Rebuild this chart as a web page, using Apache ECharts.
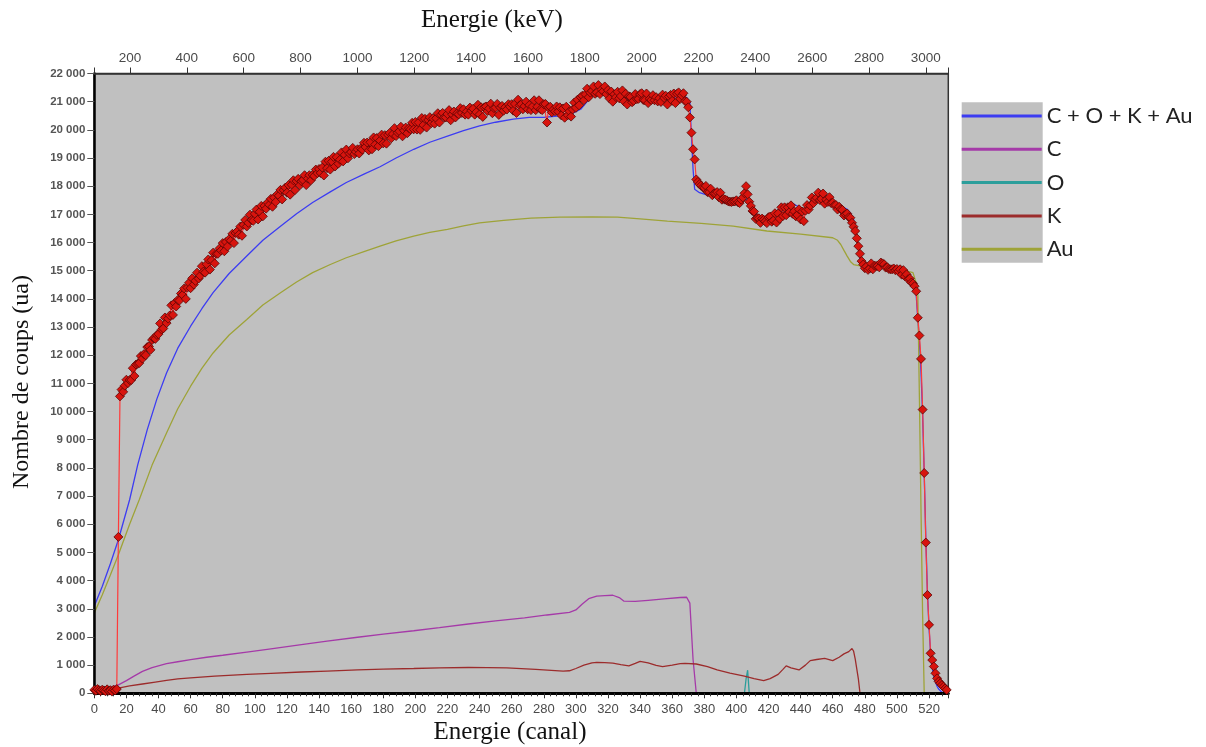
<!DOCTYPE html>
<html><head><meta charset="utf-8">
<script src="https://cdn.jsdelivr.net/npm/echarts@6/dist/echarts.min.js"></script>
<style>html,body{margin:0;padding:0;background:#fff}#c{width:1206px;height:747px}</style>
</head><body><div id="c"></div>
<script>
// Axis ranges
const canalRange = [0, 532];
const kevRange = [74.3, 3079];
const countRange = [0, 22000];
const canalStep = 20, kevStep = 200, countStep = 1000;

// Experimental counts, one value per canal (0..531)
const expCounts = [
120, 90, 150, 110, 80, 130, 100, 70, 140, 90,
110, 60, 130, 100, 150, 5550, 10540, 10780, 10700, 10920,
11130, 11010, 11120, 11120, 11540, 11260, 11670, 11700, 11720, 11970,
11880, 12040, 12000, 12290, 12310, 12190, 12540, 12600, 12580, 12720,
12750, 13130, 12910, 12950, 13340, 13140, 13300, 13410, 13770, 13430,
13850, 13730, 13960, 13940, 14190, 14140, 14370, 14000, 14400, 14570,
14380, 14730, 14510, 14640, 14930, 14720, 14820, 15160, 14970, 14930,
15230, 15400, 15040, 15370, 15640, 15260, 15600, 15600, 15790, 15720,
15980, 15690, 16020, 15860, 16120, 16070, 16310, 15980, 16340, 16400,
16280, 16570, 16240, 16630, 16800, 16570, 16700, 16990, 16800, 16770,
17020, 17170, 16820, 17090, 17300, 16930, 17300, 17200, 17420, 17340,
17550, 17270, 17590, 17440, 17710, 17660, 17870, 17530, 17860, 17950,
17770, 18040, 17700, 18050, 18210, 17860, 18180, 18260, 18030, 18180,
18220, 18390, 18040, 18270, 18390, 18210, 18400, 18360, 18590, 18460,
18610, 18470, 18660, 18380, 18870, 18640, 18900, 18590, 18870, 19040,
18700, 19030, 18800, 18940, 19200, 18880, 19110, 19300, 18990, 19160,
19210, 19360, 19140, 19220, 19310, 19160, 19340, 19300, 19540, 19390,
19550, 19270, 19560, 19310, 19730, 19480, 19710, 19420, 19620, 19830,
19520, 19810, 19510, 19820, 19890, 19700, 19850, 20060, 19780, 19900,
19950, 20110, 19770, 19970, 20080, 19880, 20060, 20020, 20250, 20020,
20280, 20010, 20260, 20000, 20420, 20170, 20390, 20080, 20350, 20450,
20240, 20410, 20220, 20410, 20590, 20260, 20530, 20600, 20440, 20440,
20560, 20700, 20340, 20550, 20650, 20440, 20590, 20550, 20770, 20600,
20730, 20540, 20650, 20540, 20790, 20680, 20750, 20540, 20630, 20890,
20550, 20800, 20460, 20800, 20830, 20670, 20760, 20930, 20590, 20770,
20790, 20920, 20530, 20790, 20850, 20680, 20800, 20720, 20910, 20820,
20910, 20680, 20920, 20600, 21070, 20870, 20910, 20730, 20840, 21000,
20730, 20880, 20700, 20830, 21050, 20700, 20820, 21050, 20730, 20700,
20910, 20920, 20260, 20790, 20820, 20620, 20720, 20660, 20830, 20650,
20800, 20510, 20760, 20430, 20820, 20520, 20660, 20470, 20720, 20970,
20780, 21070, 20870, 21160, 21210, 21050, 21260, 21460, 21160, 21320,
21380, 21540, 21280, 21330, 21590, 21270, 21430, 21370, 21540, 21270,
21410, 21110, 21360, 21000, 21260, 21160, 21350, 21120, 21200, 21400,
21010, 21280, 20900, 21190, 21170, 20980, 21030, 21270, 21090, 21100,
21270, 21300, 21060, 21050, 21290, 20950, 21100, 21060, 21230, 21050,
21160, 21010, 21120, 20990, 21250, 21130, 21210, 20900, 21180, 21240,
21030, 21290, 20950, 21280, 21330, 21100, 21220, 21300, 21020, 21000,
20800, 20440, 19900, 19310, 18950, 18240, 18150, 18070, 18020, 17960,
17940, 18010, 17790, 17790, 17910, 17680, 17740, 17740, 17790, 17610,
17770, 17520, 17550, 17520, 17500, 17460, 17450, 17440, 17460, 17460,
17500, 17430, 17400, 17520, 17600, 17750, 18000, 17710, 17450, 17300,
17120, 17100, 16840, 16870, 16860, 16700, 16850, 16810, 16750, 16690,
16900, 16920, 16740, 16780, 17040, 16710, 17030, 16840, 17250, 16940,
17250, 16970, 17250, 17080, 17320, 17020, 17110, 16930, 16980, 17180,
16820, 17100, 16760, 17130, 17330, 17170, 17310, 17600, 17400, 17540,
17590, 17770, 17510, 17550, 17740, 17380, 17520, 17440, 17610, 17400,
17420, 17320, 17330, 17170, 17270, 17180, 17160, 16960, 17000, 17030,
16900, 16880, 16700, 16560, 16410, 16150, 15870, 15600, 15340, 15220,
15090, 15150, 15030, 15080, 15260, 15050, 15180, 15170, 15170, 15120,
15290, 15260, 15230, 15110, 15120, 15060, 15050, 15050, 15080, 15020,
15060, 14980, 15050, 14860, 15020, 14800, 14870, 14700, 14720, 14580,
14550, 14450, 14270, 13330, 12700, 11870, 10070, 7820, 5350, 3490,
2430, 1420, 1180, 950, 710, 530, 420, 355, 290, 235,
170, 120
];

// Fitted curves: [canal, counts]
const fitSum = [[0,3100],[5,3800],[10,4600],[15,5450],[22,6870],[27,8100],[33,9360],[39,10450],[45,11370],[52,12250],[60,13030],[67,13650],[74,14220],[84,14900],[95,15520],[105,16080],[116,16580],[126,17020],[136,17420],[147,17800],[157,18130],[168,18430],[178,18690],[188,19000],[199,19310],[209,19560],[220,19780],[230,19970],[240,20140],[250,20270],[261,20380],[271,20440],[280,20440],[290,20500],[296,20550],[299,20620],[303,20730],[307,21000],[311,21260],[315,21370],[319,21380],[322,21300],[326,21200],[331,21100],[336,21030],[346,21080],[357,21110],[365,21140],[369,21150],[371,20970],[372,19780],[373,18600],[374,17890],[377,17770],[382,17680],[388,17590],[393,17500],[398,17420],[402,17460],[404,17560],[405,17650],[406,17600],[408,17300],[411,17060],[414,16950],[417,16880],[420,16920],[424,17050],[429,17240],[433,17340],[436,17360],[439,17260],[442,17180],[446,17300],[450,17470],[455,17480],[460,17420],[465,17300],[469,17180],[471,17050],[473,16820],[475,16230],[477,15400],[480,15160],[485,15150],[490,15200],[495,15120],[500,15050],[505,14900],[508,14750],[511,14500],[512,14150],[513,13300],[514,12500],[515,11400],[516,9900],[517,7800],[518,5500],[519,3600],[520,2300],[521,1400],[522,900],[523,600],[524,400],[525,250],[526,150],[527,80],[528,40],[531,10]];
const fitC = [[0,60],[5,120],[10,200],[15,300],[20,450],[25,620],[30,780],[36,915],[45,1050],[52,1120],[60,1195],[70,1280],[80,1350],[95,1463],[110,1580],[129,1730],[145,1850],[164,1990],[180,2100],[199,2220],[215,2330],[233,2460],[250,2570],[268,2680],[282,2780],[296,2870],[300,2960],[304,3170],[308,3360],[313,3450],[318,3470],[323,3480],[327,3400],[330,3270],[337,3260],[345,3300],[355,3350],[365,3400],[369,3410],[371,3200],[372,2200],[373,1200],[375,0],[531,0]];
const fitO = [[0,0],[405,0],[406,500],[407,820],[408,0],[531,0]];
const fitK = [[0,25],[5,70],[10,120],[15,180],[22,260],[30,330],[38,400],[45,460],[52,510],[60,550],[75,610],[95,670],[110,710],[129,756],[145,790],[164,830],[180,860],[199,880],[215,900],[233,915],[245,910],[257,900],[275,850],[292,790],[296,800],[300,880],[305,1000],[310,1080],[313,1100],[318,1090],[323,1073],[328,1020],[333,975],[337,1060],[340,1134],[345,1080],[350,990],[354,950],[360,1000],[365,1050],[368,1060],[375,1040],[382,950],[388,830],[396,720],[405,610],[411,520],[417,450],[421,520],[426,670],[429,850],[431,975],[434,900],[439,830],[443,1000],[446,1160],[450,1200],[455,1240],[460,1160],[464,1280],[467,1400],[470,1480],[472,1590],[473,1500],[474,1220],[476,500],[477,0],[531,0]];
const fitAu = [[0,2850],[5,3500],[10,4200],[15,4920],[22,6000],[28,6870],[36,8100],[45,9240],[52,10100],[60,10900],[67,11530],[74,12080],[84,12720],[95,13270],[105,13780],[116,14220],[126,14600],[136,14930],[147,15220],[157,15460],[168,15680],[178,15870],[188,16060],[199,16230],[209,16360],[220,16470],[230,16590],[240,16700],[255,16790],[272,16870],[290,16900],[310,16910],[326,16900],[340,16840],[357,16760],[378,16680],[398,16580],[419,16410],[440,16300],[460,16170],[463,16080],[465,15930],[467,15720],[469,15520],[471,15330],[473,15220],[477,15170],[481,15140],[490,15100],[502,15050],[510,14930],[512,14570],[513,14200],[514,10500],[515,6500],[516,2800],[517,0],[531,0]];

const seriesNames = ['C + O + K + Au', 'C', 'O', 'K', 'Au'];
const seriesColors = ['#3c3cf2', '#a53aa8', '#2c9e9b', '#9c2c2c', '#9ea338'];
const fits = [fitSum, fitC, fitO, fitK, fitAu];

const chart = echarts.init(document.getElementById('c'), null, {renderer: 'canvas'});
const labelFont = '"Liberation Sans", Arial, sans-serif';
const spaced = v => String(v).replace(/\B(?=(\d{3})+(?!\d))/g, ' ');

const series = fits.map((d, i) => ({
  name: seriesNames[i], type: 'line', data: d, xAxisIndex: 0, yAxisIndex: 0,
  symbol: 'none', smooth: false, z: 2,
  lineStyle: {color: seriesColors[i], width: 1.3},
  itemStyle: {color: seriesColors[i]}
}));
series.push({
  name: 'Expérience', type: 'line', xAxisIndex: 0, yAxisIndex: 0, z: 6,
  data: expCounts.map((v, i) => [i, v]),
  symbol: 'diamond', symbolSize: 9, showSymbol: true,
  lineStyle: {color: '#ff3a3a', width: 1.2},
  itemStyle: {color: '#d8140e', borderColor: '#5a0505', borderWidth: 0.8}
});

chart.setOption({
  animation: false,
  backgroundColor: '#ffffff',
  grid: {left: 94.3, right: 257.7, top: 73.5, bottom: 53.7, show: true,
         backgroundColor: '#c0c0c0', borderColor: '#333', borderWidth: 1.5},
  xAxis: [{
    type: 'value', position: 'bottom', min: canalRange[0], max: canalRange[1], interval: canalStep, z: 4,
    axisLine: {show: true, onZero: false, lineStyle: {color: '#000', width: 3}},
    axisTick: {show: true, length: 5, lineStyle: {color: '#333', width: 1}},
    minorTick: {show: true, splitNumber: 5, length: 3, lineStyle: {color: '#333', width: 1}},
    splitLine: {show: false}, minorSplitLine: {show: false},
    axisLabel: {color: '#4a4a4a', fontSize: 13, fontFamily: labelFont, margin: 10,
      formatter: v => (v % canalStep === 0 ? String(v) : '')}
  }, {
    type: 'value', position: 'top', min: kevRange[0], max: kevRange[1],
    minInterval: kevStep, maxInterval: kevStep, splitNumber: 15, z: 4,
    axisLine: {show: true, onZero: false, lineStyle: {color: '#333', width: 1.5}},
    axisTick: {show: true, length: 6, lineStyle: {color: '#333', width: 1}},
    splitLine: {show: false},
    axisLabel: {color: '#4a4a4a', fontSize: 13.5, fontFamily: labelFont, margin: 8,
      formatter: v => (Math.abs(v % kevStep) < 1e-6 ? String(v) : '')}
  }],
  yAxis: [{
    type: 'value', min: countRange[0], max: countRange[1], interval: countStep, z: 4,
    axisLine: {show: true, onZero: false, lineStyle: {color: '#000', width: 2.5}},
    axisTick: {show: true, length: 7, lineStyle: {color: '#555', width: 1}},
    splitLine: {show: false},
    axisLabel: {color: '#555', fontSize: 11.5, fontWeight: 'bold', fontFamily: labelFont, margin: 9,
      formatter: v => (v % countStep === 0 ? spaced(v) : '')}
  }],
  legend: {
    data: seriesNames, orient: 'vertical', left: 961.7, top: 105, padding: 0,
    itemWidth: 80, itemHeight: 3, itemGap: 11.3, icon: 'rect',
    textStyle: {fontFamily: 'Lato, "Open Sans", sans-serif', fontSize: 22, color: '#222', lineHeight: 20},
    selectedMode: false, z: 10
  },
  graphic: [
    {type: 'rect', left: 961.7, top: 102.3, shape: {width: 81, height: 160.4},
     style: {fill: '#c0c0c0'}, z: 0, silent: true},
    {type: 'text', x: 492, y: 20, z: 10, style: {text: 'Energie (keV)', fontSize: 25,
     fontFamily: '"Liberation Serif", "Times New Roman", serif', fill: '#111', align: 'center', verticalAlign: 'middle'}},
    {type: 'text', x: 510, y: 732, z: 10, style: {text: 'Energie (canal)', fontSize: 25,
     fontFamily: '"Liberation Serif", "Times New Roman", serif', fill: '#111', align: 'center', verticalAlign: 'middle'}},
    {type: 'text', x: 22, y: 382, rotation: Math.PI / 2, z: 10, style: {text: 'Nombre de coups (ua)', fontSize: 24,
     fontFamily: '"Liberation Serif", "Times New Roman", serif', fill: '#111', align: 'center', verticalAlign: 'middle'}}
  ],
  series: series
});
</script>
</body></html>
